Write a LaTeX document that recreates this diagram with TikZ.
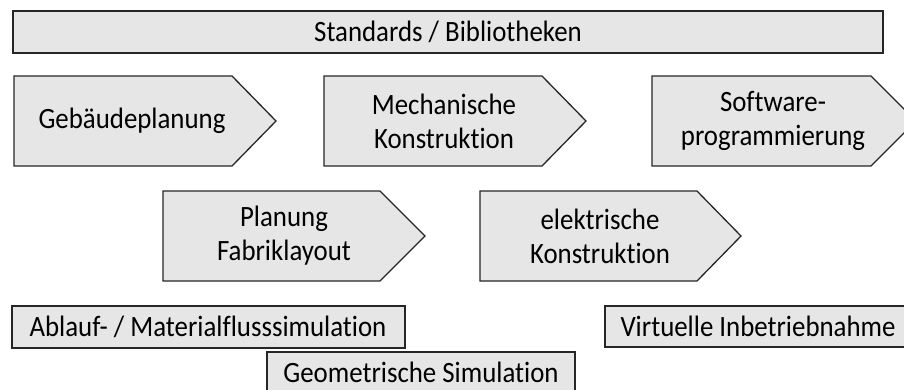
\documentclass[tikz,border=0pt]{standalone}
\usepackage{fontspec}
\setmainfont{Carlito}[FakeStretch=0.91,Ligatures=NoCommon]
\definecolor{boxfill}{HTML}{E7E6E6}
\definecolor{boxline}{HTML}{262626}
\begin{document}
\begin{tikzpicture}[x=1pt,y=-1pt,
  shp/.style={fill=boxfill,draw=boxline,line width=1.3pt,line join=miter},
  lbl/.style={align=center,inner sep=0pt,font=\fontsize{29.5}{34}\selectfont,text=black}]
\useasboundingbox (0,0) rectangle (904,389);
\clip (0,0) rectangle (904,389);
% top bar
\draw[shp] (13,11) rectangle (883,53);
\node[lbl] (std) at (448,32) {Standards / Bibliotheken};
% row 1 arrows
\draw[shp] (14,76) -- (232,76) -- (276,121) -- (232,166) -- (14,166) -- cycle;
\node[lbl] (geb) at (132,121) {Gebäudeplanung};
\draw[shp] (324,76) -- (542,76) -- (586,121) -- (542,166) -- (324,166) -- cycle;
\node[lbl] (mech) at (444,121) {Mechanische\\Konstruktion};
\draw[shp] (652,76) -- (871,76) -- (916,121) -- (871,166) -- (652,166) -- cycle;
\node[lbl] (soft) at (773,121) {Software-\\programmierung};
% row 2 arrows
\draw[shp] (163,191) -- (380,191) -- (425,236) -- (380,281) -- (163,281) -- cycle;
\node[lbl] (plan) at (284,236) {Planung\\Fabriklayout};
\draw[shp] (480,191) -- (697,191) -- (741,236) -- (697,281) -- (480,281) -- cycle;
\node[lbl] (elek) at (600,236) {elektrische\\Konstruktion};
% bottom boxes
\draw[shp] (12,306) rectangle (405,348);
\node[lbl] (abl) at (208,327) {Ablauf- / Materialflusssimulation};
\draw[shp] (267,352) rectangle (575,394);
\node[lbl] (geo) at (421,372) {Geometrische Simulation};
\draw[shp] (605,306) rectangle (911,347);
\node[lbl] (vib) at (758,326.5) {Virtuelle Inbetriebnahme};
\end{tikzpicture}
\end{document}
